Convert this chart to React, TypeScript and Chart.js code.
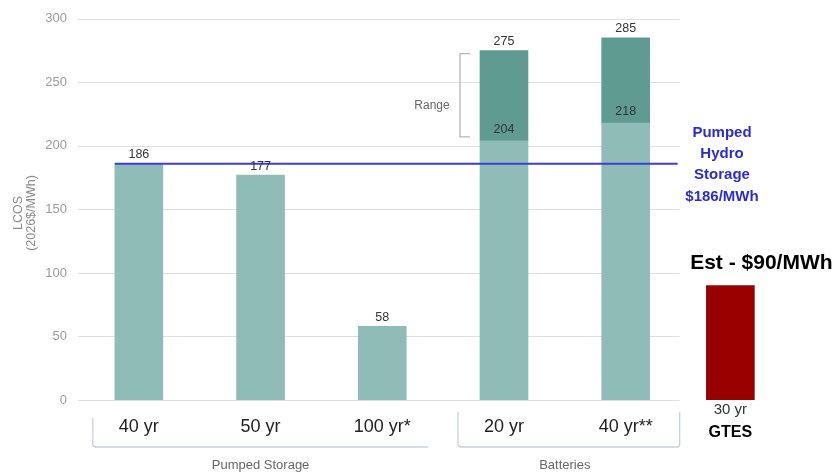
import React, { useEffect, useRef } from 'react';
import { Chart, registerables } from 'chart.js';

Chart.register(...registerables);

// ---------------- data ----------------
const CATEGORIES = ['40 yr', '50 yr', '100 yr*', '20 yr', '40 yr**'];
const BASE_VALUES = [186, 177, 58, 204, 218];
const RANGE_HIGH: (number | null)[] = [null, null, null, 275, 285];
const GTES_CATEGORY = '30 yr';
const GTES_NAME = 'GTES';
const GTES_VALUE = 90;
const GTES_POSITION = 5.86;
const GTES_NOTE = 'Est - $90/MWh';
const PHS_REFERENCE = 186;
const PHS_NOTE = ['Pumped', 'Hydro', 'Storage', '$186/MWh'];
const GROUP_LABELS = ['Pumped Storage', 'Batteries'];
const GROUP_MEMBERS = [[0, 2], [3, 4]];
const Y_MIN = 0;
const Y_MAX = 300;
const Y_STEP = 50;
const Y_TITLE = ['LCOS', '(2026$/MWh)'];
const RANGE_LABEL = 'Range';

// ---------------- style ----------------
const SANS = '"Liberation Sans", Arial, Helvetica, sans-serif';
const LIGHT = '#8fbcb7';
const DARK = '#5f9b91';
const RED = '#990000';
const BLUE_LINE = '#3c3cdc';
const BLUE_TEXT = '#2b2bd2';

const overlay = {
  id: 'overlay',
  beforeDatasetsDraw(chart: any) {
    const { ctx, chartArea, scales } = chart;
    const x = scales.x;
    const y = scales.y;
    const gridEnd = x.getPixelForValue(CATEGORIES.length) + 54;
    ctx.save();
    ctx.strokeStyle = '#dedede';
    ctx.lineWidth = 1;
    y.ticks.forEach((t: any) => {
      const py = Math.round(y.getPixelForValue(t.value)) + 0.5;
      ctx.beginPath();
      ctx.moveTo(chartArea.left, py);
      ctx.lineTo(gridEnd, py);
      ctx.stroke();
    });
    ctx.restore();
  },
  afterDatasetsDraw(chart: any) {
    const { ctx, scales } = chart;
    const x = scales.x;
    const y = scales.y;
    const gridEnd = x.getPixelForValue(CATEGORIES.length) + 54;
    ctx.save();

    // reference line
    const refY = y.getPixelForValue(PHS_REFERENCE);
    ctx.strokeStyle = BLUE_LINE;
    ctx.lineWidth = 2;
    ctx.beginPath();
    ctx.moveTo(x.getPixelForValue(1) - 24, refY);
    ctx.lineTo(gridEnd - 2, refY);
    ctx.stroke();

    // value labels
    ctx.fillStyle = '#333';
    ctx.font = `12.5px ${SANS}`;
    ctx.textAlign = 'center';
    ctx.textBaseline = 'middle';
    const baseMeta = chart.getDatasetMeta(0);
    const rangeMeta = chart.getDatasetMeta(1);
    const rangeData = chart.data.datasets[1].data as any[];
    BASE_VALUES.forEach((v, i) => {
      const el = baseMeta.data[i];
      if (RANGE_HIGH[i] != null) {
        ctx.fillText(String(v), el.x, el.y - 11);
      } else {
        ctx.fillText(String(v), el.x, el.y - 9);
      }
    });
    rangeData.forEach((d: any, k: number) => {
      const el = rangeMeta.data[k];
      ctx.fillText(String(d.y[1]), el.x, el.y - 9);
    });

    // Range bracket
    const firstRange = rangeMeta.data[0];
    const rTop = y.getPixelForValue(rangeData[0].y[1]) + 3;
    const rBot = y.getPixelForValue(rangeData[0].y[0]) - 4;
    const rx = firstRange.x - 44;
    ctx.strokeStyle = '#b5b5b5';
    ctx.lineWidth = 1.3;
    ctx.beginPath();
    ctx.moveTo(rx + 10, rTop);
    ctx.lineTo(rx, rTop);
    ctx.lineTo(rx, rBot);
    ctx.lineTo(rx + 10, rBot);
    ctx.stroke();
    ctx.fillStyle = '#666';
    ctx.font = `12px ${SANS}`;
    ctx.fillText(RANGE_LABEL, rx - 28, (rTop + rBot) / 2 + 11);

    // Pumped hydro note
    ctx.fillStyle = BLUE_TEXT;
    ctx.font = `bold 15px ${SANS}`;
    PHS_NOTE.forEach((line, i) => {
      ctx.fillText(line, 722, refY - 31 + i * 21.3);
    });

    // GTES labels
    const gx = x.getPixelForValue(GTES_POSITION);
    const gTop = y.getPixelForValue(GTES_VALUE);
    ctx.fillStyle = '#000';
    ctx.font = `bold 21px ${SANS}`;
    ctx.fillText(GTES_NOTE, gx + 31, gTop - 22);
    ctx.fillStyle = '#333';
    ctx.font = `15px ${SANS}`;
    ctx.fillText(GTES_CATEGORY, gx, 410);
    ctx.fillStyle = '#000';
    ctx.font = `bold 16px ${SANS}`;
    ctx.fillText(GTES_NAME, gx, 433);

    // group brackets + labels
    ctx.strokeStyle = '#c9d1dd';
    ctx.lineWidth = 1.3;
    GROUP_MEMBERS.forEach(([a, b], gi) => {
      const left = x.getPixelForValue(a + 1) - 46;
      const right = x.getPixelForValue(b + 1) + (gi === 0 ? 46 : 54);
      const topY = gi === 0 ? 418 : 412;
      const by = 447;
      ctx.beginPath();
      ctx.moveTo(left, topY);
      ctx.lineTo(left, by - 3);
      ctx.quadraticCurveTo(left, by, left + 3, by);
      ctx.lineTo(right - (gi === 0 ? 0 : 3), by);
      if (gi !== 0) {
        ctx.quadraticCurveTo(right, by, right, by - 3);
        ctx.lineTo(right, topY);
      }
      ctx.stroke();
      const cx = (x.getPixelForValue(a + 1) + x.getPixelForValue(b + 1)) / 2;
      ctx.fillStyle = '#666';
      ctx.font = `13px ${SANS}`;
      ctx.fillText(GROUP_LABELS[gi], cx, 465);
    });

    // y title
    ctx.fillStyle = '#8a8a8a';
    ctx.font = `12.5px ${SANS}`;
    Y_TITLE.forEach((line, i) => {
      ctx.save();
      ctx.translate(19 + i * 13, 213);
      ctx.rotate(-Math.PI / 2);
      ctx.fillText(line, 0, 0);
      ctx.restore();
    });

    ctx.restore();
  },
};

export default function App() {
  const canvasRef = useRef<HTMLCanvasElement | null>(null);

  useEffect(() => {
    const canvas = canvasRef.current;
    if (!canvas) return;
    const baseData = BASE_VALUES.map((v, i) => ({ x: i + 1, y: v }));
    const rangeData = RANGE_HIGH.map((h, i) => (h == null ? null : { x: i + 1, y: [BASE_VALUES[i], h] })).filter(
      (d) => d != null
    );
    const chart = new Chart(canvas, {
      type: 'bar',
      data: {
        datasets: [
          { label: 'base', data: baseData as any, backgroundColor: LIGHT, barThickness: 48, grouped: false } as any,
          { label: 'range', data: rangeData as any, backgroundColor: DARK, barThickness: 48, grouped: false } as any,
          {
            label: GTES_NAME,
            data: [{ x: GTES_POSITION, y: GTES_VALUE }] as any,
            backgroundColor: RED,
            barThickness: 48,
            grouped: false,
          } as any,
        ],
      },
      options: {
        responsive: false,
        animation: false,
        devicePixelRatio: 1,
        layout: { padding: { top: 12, right: 46, bottom: 15, left: 0 } },
        plugins: { legend: { display: false }, tooltip: { enabled: false } },
        scales: {
          x: {
            type: 'linear',
            min: 0.5,
            max: 6.35,
            bounds: 'data',
            offset: false,
            grid: { display: false, drawTicks: false, offset: false },
            border: { display: false },
            afterBuildTicks: (s: any) => {
              s.ticks = CATEGORIES.map((_, i) => ({ value: i + 1 }));
            },
            afterFit: (s: any) => {
              s.height = 60;
            },
            ticks: {
              autoSkip: false,
              maxRotation: 0,
              padding: 16,
              color: '#222',
              font: { family: SANS, size: 18 },
              callback: (v: any) => CATEGORIES[Math.round(Number(v)) - 1] ?? '',
            },
          },
          y: {
            type: 'linear',
            min: Y_MIN,
            max: Y_MAX,
            grid: { display: false, drawTicks: false },
            border: { display: false },
            afterFit: (s: any) => {
              s.width = 78;
            },
            ticks: {
              stepSize: Y_STEP,
              padding: 11,
              color: '#9a9a9a',
              font: { family: SANS, size: 13 },
            },
          },
        },
      } as any,
      plugins: [overlay],
    });
    return () => chart.destroy();
  }, []);

  return (
    <div style={{ position: 'fixed', left: 0, top: 0, width: 836, height: 475, background: '#fff' }}>
      <canvas ref={canvasRef} width={836} height={475} style={{ display: 'block' }} />
    </div>
  );
}
